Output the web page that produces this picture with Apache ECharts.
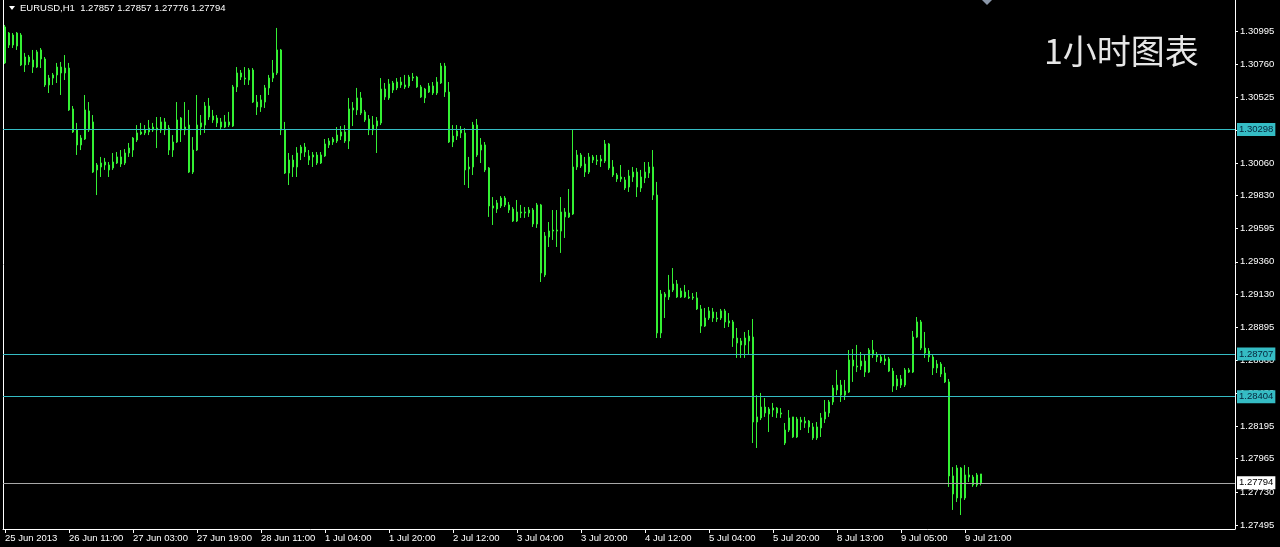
<!DOCTYPE html>
<html><head><meta charset="utf-8">
<script src="https://cdn.jsdelivr.net/npm/echarts@6/dist/echarts.min.js"></script>
<style>html,body{margin:0;padding:0;background:#000;}#c{width:1280px;height:547px;}</style>
</head><body><div id="c"></div>
<script>
const opens = [
1.30769,1.30981,1.30896,1.30981,1.30967,1.30755,1.30811,1.30790,1.30740,1.30861,
1.30797,1.30613,1.30662,1.30684,1.30740,1.30698,1.30733,1.30443,1.30294,1.30188,
1.30230,1.30429,1.30351,1.30011,1.30032,1.30067,1.30046,1.30025,1.30060,1.30103,
1.30060,1.30131,1.30152,1.30223,1.30266,1.30273,1.30280,1.30315,1.30294,1.30294,
1.30351,1.30308,1.30152,1.30209,1.30379,1.30294,1.30329,1.29996,1.30152,1.30315,
1.30329,1.30464,1.30393,1.30379,1.30351,1.30315,1.30351,1.30322,1.30599,1.30698,
1.30662,1.30648,1.30719,1.30492,1.30457,1.30492,1.30592,1.30662,1.30698,1.30861,
1.30294,1.29989,1.30081,1.30032,1.30131,1.30173,1.30110,1.30103,1.30117,1.30060,
1.30110,1.30188,1.30209,1.30216,1.30251,1.30280,1.30216,1.30436,1.30436,1.30521,
1.30422,1.30372,1.30294,1.30322,1.30344,1.30584,1.30521,1.30627,1.30592,1.30634,
1.30613,1.30606,1.30669,1.30669,1.30599,1.30521,1.30606,1.30556,1.30556,1.30627,
1.30747,1.30563,1.30209,1.30251,1.30273,1.30273,1.30018,1.30032,1.30329,1.30152,
1.30188,1.30025,1.29756,1.29734,1.29756,1.29812,1.29763,1.29734,1.29649,1.29713,
1.29706,1.29706,1.29727,1.29628,1.29763,1.29267,1.29536,1.29578,1.29585,1.29578,
1.29713,1.29678,1.29699,1.30032,1.30117,1.30053,1.29996,1.30103,1.30081,1.30074,
1.30074,1.30195,1.30032,1.29975,1.29947,1.29940,1.29890,1.29961,1.29996,1.29883,
1.29954,1.29989,1.30032,1.29833,1.28856,1.29132,1.29111,1.29160,1.29203,1.29111,
1.29146,1.29111,1.29104,1.29104,1.29026,1.28905,1.28962,1.29005,1.28962,1.28962,
1.29012,1.28941,1.28934,1.28820,1.28771,1.28820,1.28799,1.28827,1.28225,1.28254,
1.28331,1.28282,1.28310,1.28324,1.28289,1.28168,1.28168,1.28261,1.28119,1.28239,
1.28218,1.28232,1.28190,1.28112,1.28183,1.28246,1.28289,1.28367,1.28452,1.28487,
1.28416,1.28438,1.28664,1.28622,1.28622,1.28657,1.28579,1.28735,1.28700,1.28686,
1.28657,1.28672,1.28586,1.28480,1.28530,1.28487,1.28594,1.28579,1.28827,1.28934,
1.28749,1.28728,1.28686,1.28608,1.28636,1.28572,1.28509,1.27843,1.27687,1.27899,
1.27687,1.27850,1.27835,1.27779,1.27857];
const closes = [
1.31024,1.30896,1.30967,1.30889,1.30755,1.30811,1.30776,1.30740,1.30847,1.30797,
1.30613,1.30662,1.30684,1.30740,1.30698,1.30733,1.30436,1.30280,1.30188,1.30237,
1.30436,1.30294,1.29996,1.30046,1.30060,1.30046,1.30011,1.30067,1.30103,1.30053,
1.30131,1.30166,1.30237,1.30273,1.30280,1.30294,1.30308,1.30294,1.30308,1.30351,
1.30294,1.30152,1.30209,1.30365,1.30294,1.30315,1.29996,1.30152,1.30329,1.30344,
1.30464,1.30386,1.30365,1.30344,1.30315,1.30351,1.30329,1.30599,1.30698,1.30669,
1.30655,1.30719,1.30492,1.30457,1.30507,1.30592,1.30662,1.30698,1.30861,1.30294,
1.29989,1.30081,1.30032,1.30131,1.30173,1.30138,1.30081,1.30117,1.30060,1.30117,
1.30195,1.30216,1.30230,1.30258,1.30280,1.30216,1.30443,1.30450,1.30521,1.30414,
1.30365,1.30294,1.30329,1.30358,1.30584,1.30528,1.30620,1.30577,1.30634,1.30613,
1.30599,1.30669,1.30662,1.30599,1.30528,1.30584,1.30563,1.30606,1.30634,1.30747,
1.30563,1.30209,1.30251,1.30287,1.30294,1.30011,1.30032,1.30329,1.30117,1.30188,
1.30011,1.29756,1.29741,1.29777,1.29812,1.29763,1.29727,1.29649,1.29713,1.29706,
1.29713,1.29727,1.29628,1.29763,1.29281,1.29543,1.29578,1.29585,1.29578,1.29713,
1.29678,1.29706,1.30032,1.30117,1.30039,1.29996,1.30103,1.30081,1.30074,1.30088,
1.30195,1.30025,1.29975,1.29947,1.29961,1.29883,1.29968,1.29996,1.29890,1.29961,
1.29996,1.30032,1.29833,1.28856,1.29132,1.29111,1.29160,1.29203,1.29111,1.29153,
1.29111,1.29104,1.29111,1.29026,1.28905,1.28962,1.29012,1.28962,1.28955,1.29012,
1.28934,1.28927,1.28820,1.28785,1.28799,1.28771,1.28834,1.28225,1.28261,1.28331,
1.28289,1.28317,1.28324,1.28289,1.28282,1.28076,1.28254,1.28119,1.28246,1.28225,
1.28232,1.28190,1.28112,1.28190,1.28254,1.28296,1.28367,1.28466,1.28487,1.28416,
1.28445,1.28664,1.28622,1.28615,1.28657,1.28579,1.28735,1.28700,1.28686,1.28657,
1.28672,1.28586,1.28480,1.28530,1.28487,1.28594,1.28579,1.28827,1.28934,1.28749,
1.28714,1.28686,1.28608,1.28636,1.28565,1.28509,1.27843,1.27715,1.27899,1.27687,
1.27850,1.27835,1.27779,1.27850,1.27794];
const lows = [
1.30762,1.30875,1.30875,1.30861,1.30747,1.30705,1.30755,1.30698,1.30733,1.30733,
1.30599,1.30556,1.30613,1.30627,1.30542,1.30648,1.30429,1.30273,1.30117,1.30152,
1.30223,1.30280,1.29989,1.29833,1.29961,1.30011,1.29961,1.30011,1.30053,1.30032,
1.30046,1.30103,1.30103,1.30209,1.30258,1.30258,1.30258,1.30280,1.30166,1.30273,
1.30258,1.30117,1.30103,1.30202,1.30209,1.30258,1.29989,1.29982,1.30145,1.30258,
1.30273,1.30365,1.30344,1.30315,1.30294,1.30308,1.30315,1.30315,1.30563,1.30648,
1.30613,1.30613,1.30485,1.30400,1.30422,1.30450,1.30542,1.30634,1.30684,1.30258,
1.29982,1.29904,1.29961,1.29961,1.30081,1.30103,1.30046,1.30032,1.30046,1.30053,
1.30103,1.30166,1.30188,1.30202,1.30223,1.30202,1.30159,1.30322,1.30400,1.30400,
1.30351,1.30258,1.30258,1.30131,1.30329,1.30507,1.30507,1.30556,1.30577,1.30592,
1.30584,1.30592,1.30641,1.30592,1.30521,1.30485,1.30556,1.30542,1.30542,1.30620,
1.30528,1.30202,1.30173,1.30223,1.30237,1.29904,1.29883,1.29975,1.30103,1.30060,
1.29996,1.29678,1.29621,1.29706,1.29741,1.29748,1.29706,1.29642,1.29642,1.29671,
1.29671,1.29678,1.29607,1.29600,1.29217,1.29252,1.29465,1.29515,1.29465,1.29423,
1.29529,1.29671,1.29692,1.30011,1.30025,1.29961,1.29982,1.30060,1.30046,1.30032,
1.30060,1.30011,1.29961,1.29926,1.29926,1.29869,1.29855,1.29926,1.29819,1.29855,
1.29918,1.29954,1.29798,1.28820,1.28820,1.28962,1.29090,1.29146,1.29104,1.29104,
1.29104,1.29097,1.29090,1.29019,1.28856,1.28898,1.28948,1.28934,1.28934,1.28948,
1.28891,1.28898,1.28757,1.28679,1.28679,1.28679,1.28700,1.28076,1.28041,1.28239,
1.28261,1.28154,1.28261,1.28254,1.28254,1.28062,1.28154,1.28112,1.28112,1.28168,
1.28183,1.28147,1.28098,1.28098,1.28119,1.28218,1.28261,1.28346,1.28416,1.28367,
1.28381,1.28431,1.28509,1.28579,1.28594,1.28544,1.28572,1.28679,1.28650,1.28643,
1.28629,1.28579,1.28438,1.28452,1.28466,1.28473,1.28572,1.28572,1.28820,1.28735,
1.28679,1.28650,1.28558,1.28572,1.28544,1.28501,1.27765,1.27602,1.27658,1.27566,
1.27673,1.27800,1.27765,1.27765,1.27776];
const highs = [
1.31038,1.30988,1.30981,1.30988,1.30981,1.30840,1.30825,1.30861,1.30861,1.30875,
1.30811,1.30684,1.30698,1.30769,1.30776,1.30825,1.30769,1.30464,1.30344,1.30258,
1.30542,1.30492,1.30400,1.30060,1.30103,1.30096,1.30067,1.30131,1.30138,1.30152,
1.30159,1.30202,1.30244,1.30329,1.30344,1.30329,1.30365,1.30344,1.30386,1.30386,
1.30379,1.30329,1.30258,1.30492,1.30386,1.30492,1.30436,1.30244,1.30542,1.30400,
1.30492,1.30521,1.30436,1.30400,1.30379,1.30400,1.30422,1.30613,1.30740,1.30719,
1.30740,1.30733,1.30733,1.30542,1.30542,1.30613,1.30684,1.30790,1.31017,1.30868,
1.30351,1.30131,1.30117,1.30173,1.30188,1.30202,1.30152,1.30138,1.30138,1.30138,
1.30230,1.30237,1.30244,1.30315,1.30322,1.30329,1.30521,1.30492,1.30592,1.30563,
1.30436,1.30400,1.30393,1.30386,1.30662,1.30627,1.30655,1.30641,1.30662,1.30669,
1.30684,1.30684,1.30698,1.30677,1.30613,1.30592,1.30627,1.30634,1.30669,1.30769,
1.30769,1.30634,1.30329,1.30329,1.30322,1.30308,1.30103,1.30351,1.30372,1.30237,
1.30209,1.30032,1.29819,1.29798,1.29826,1.29826,1.29784,1.29748,1.29798,1.29763,
1.29748,1.29748,1.29741,1.29777,1.29770,1.29571,1.29642,1.29727,1.29727,1.29819,
1.29741,1.29876,1.30301,1.30152,1.30131,1.30103,1.30131,1.30117,1.30117,1.30117,
1.30223,1.30202,1.30081,1.29989,1.30046,1.29961,1.30011,1.30032,1.30025,1.30011,
1.30067,1.30067,1.30152,1.29926,1.29160,1.29146,1.29267,1.29316,1.29231,1.29175,
1.29196,1.29160,1.29139,1.29146,1.29054,1.29033,1.29040,1.29033,1.29005,1.29026,
1.29026,1.28997,1.28948,1.28891,1.28820,1.28863,1.28877,1.28955,1.28416,1.28431,
1.28395,1.28331,1.28360,1.28331,1.28324,1.28218,1.28310,1.28261,1.28261,1.28261,
1.28261,1.28239,1.28218,1.28225,1.28289,1.28381,1.28381,1.28487,1.28594,1.28523,
1.28523,1.28735,1.28742,1.28771,1.28721,1.28700,1.28749,1.28806,1.28721,1.28700,
1.28700,1.28686,1.28608,1.28558,1.28558,1.28608,1.28608,1.28870,1.28969,1.28948,
1.28863,1.28749,1.28700,1.28664,1.28650,1.28615,1.28530,1.27906,1.27920,1.27906,
1.27920,1.27906,1.27850,1.27864,1.27857];

const timeLabels = ['25 Jun 2013','26 Jun 11:00','27 Jun 03:00','27 Jun 19:00','28 Jun 11:00','1 Jul 04:00','1 Jul 20:00','2 Jul 12:00','3 Jul 04:00','3 Jul 20:00','4 Jul 12:00','5 Jul 04:00','5 Jul 20:00','8 Jul 13:00','9 Jul 05:00','9 Jul 21:00'];
const priceTicks = [1.30995,1.30760,1.30525,1.30290,1.30060,1.29830,1.29595,1.29360,1.29130,1.28895,1.28660,1.28430,1.28195,1.27965,1.27730,1.27495];
const levelLines = [1.30298,1.28707,1.28404];
const bidPrice = 1.27794;
const symbolInfo = 'EURUSD,H1  1.27857 1.27857 1.27776 1.27794';
const chartTitle = '1小时图表';
const barsPerLabel = 16;
const emptyRightBars = 63;
const yMin = 1.27467, yMax = 1.31215;

const totalBars = opens.length + emptyRightBars;
const categories = Array.from({length: totalBars}, (_, i) => String(i));
const candles = opens.map((o, i) => [o, closes[i], lows[i], highs[i]]);
const isLabelIdx = (i) => i % barsPerLabel === 0 && (i / barsPerLabel) < timeLabels.length;

const FONT = '"Liberation Sans", Arial, sans-serif';
const CYAN = '#35bcc4';
const LIME = '#34f034';
const PALE = '#c4ffc4';

const labelBase = {show: true, position: 'end', distance: 2, fontSize: 9.5, fontFamily: FONT, padding: [2, 2, 1, 2]};

const chart = echarts.init(document.getElementById('c'), null, {renderer: 'canvas'});
chart.setOption({
  backgroundColor: '#000',
  animation: false,
  grid: {left: 3, right: 45, top: 0, bottom: 18, containLabel: false},
  xAxis: {
    type: 'category', data: categories, boundaryGap: true,
    axisLine: {show: true, lineStyle: {color: '#fff', width: 1}},
    axisTick: {show: true, alignWithLabel: true, interval: isLabelIdx, length: 4, lineStyle: {color: '#fff'}},
    axisLabel: {
      interval: isLabelIdx, align: 'left', margin: 4, color: '#fff', fontSize: 9.5, fontFamily: FONT,
      formatter: (v, i) => timeLabels[i / barsPerLabel] || ''
    },
    splitLine: {show: false}
  },
  yAxis: [{
    type: 'value', position: 'right', min: yMin, max: yMax,
    axisLine: {show: true, lineStyle: {color: '#fff', width: 1}},
    axisTick: {show: true, length: 3, customValues: priceTicks, lineStyle: {color: '#fff'}},
    axisLabel: {customValues: priceTicks, formatter: v => v.toFixed(5), color: '#fff', fontSize: 9.5, fontFamily: FONT, margin: 5},
    splitLine: {show: false}
  }, {
    type: 'value', position: 'left', min: yMin, max: yMax,
    axisLine: {show: true, lineStyle: {color: '#fff', width: 1}},
    axisTick: {show: false}, axisLabel: {show: false}, splitLine: {show: false}
  }],
  series: [{
    type: 'candlestick', data: candles, barWidth: 2,
    itemStyle: {color: PALE, color0: PALE, borderColor: LIME, borderColor0: LIME, borderWidth: 1},
    markLine: {
      symbol: ['none', 'none'], silent: true, animation: false, precision: 5,
      lineStyle: {color: CYAN, width: 1, type: 'solid', opacity: 1},
      label: Object.assign({}, labelBase, {backgroundColor: CYAN, color: '#05233a', formatter: p => p.value.toFixed(5)}),
      data: [{yAxis: bidPrice, lineStyle: {color: '#a8a8a8'}, label: {backgroundColor: '#fff', color: '#000'}}]
        .concat(levelLines.map(v => ({yAxis: v})))
    }
  }],
  graphic: [
    {type: 'polygon', shape: {points: [[9, 6], [15, 6], [12, 10]]}, style: {fill: '#fff'}},
    {type: 'text', x: 20, y: 8, style: {text: symbolInfo, fill: '#fff', font: '9.5px ' + FONT, verticalAlign: 'middle', textVerticalAlign: 'middle'}},
    {type: 'polygon', shape: {points: [[982, 0], [992, 0], [987, 5]]}, style: {fill: '#8a96a8'}},
    {type: 'text', x: 1044, y: 51, style: {text: chartTitle, fill: '#e6e6e6', font: '34px "Noto Sans CJK SC"', verticalAlign: 'middle', textVerticalAlign: 'middle'}}
  ]
});
</script></body></html>
